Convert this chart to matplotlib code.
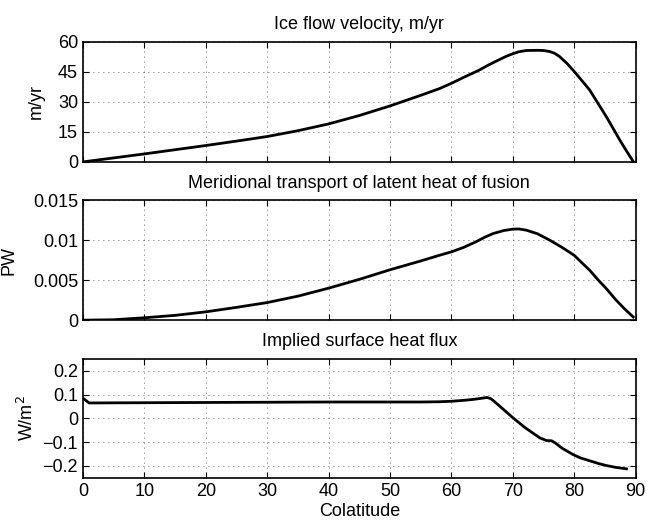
import numpy as np
import matplotlib
matplotlib.use('Agg')
import matplotlib.pyplot as plt

plt.rcParams['font.family'] = ['Liberation Sans', 'DejaVu Sans']
plt.rcParams['font.size'] = 13

# ice flow velocity (m/yr) vs colatitude
vel_lat = [0, 5, 10, 15, 20, 25, 30, 35, 40, 45, 50, 55, 58, 60, 62, 64.4, 66, 67.7, 69, 70, 71, 72.2, 74, 75, 76, 76.8, 77.6, 78.8, 80, 81.2, 82.5, 83.8, 85.2, 86.3, 87.4, 88.5, 89.6]
vel_val = [0, 2.0, 4.0, 6.1, 8.2, 10.4, 12.7, 15.6, 19.0, 23.2, 28.0, 33.3, 36.6, 39.3, 42.3, 45.7, 48.4, 51.0, 52.9, 54.1, 55.1, 55.7, 55.8, 55.7, 55.2, 54.3, 52.7, 49.3, 45.2, 40.8, 36.0, 29.6, 22.7, 16.9, 11.0, 5.5, 0.2]

# meridional transport of latent heat of fusion (PW)
pw_lat = [0, 5, 10, 15, 20, 25, 30, 35, 40, 45, 50, 55, 58, 60, 62, 64, 65.5, 66.8, 68.5, 70, 71, 72.2, 74, 76, 78, 80, 81.2, 82.5, 83.8, 85.2, 86.7, 88.2, 89.6]
pw_val = [0, 0.00005, 0.0003, 0.0006, 0.00104, 0.0016, 0.0022, 0.003, 0.004, 0.0051, 0.0063, 0.0074, 0.0081, 0.00854, 0.0091, 0.0098, 0.0104, 0.01083, 0.0112, 0.01138, 0.01140, 0.01125, 0.0108, 0.0100, 0.0091, 0.0081, 0.0072, 0.00625, 0.0051, 0.00396, 0.0026, 0.0014, 0.0004]

# implied surface heat flux (W/m^2)
hf_lat = [0, 0.5, 1, 10, 20, 30, 40, 50, 55, 58, 60, 62, 63.6, 65, 65.8, 66.4, 67, 68.5, 70, 72, 74.4, 75.5, 76.3, 76.9, 78, 79.8, 81, 82.5, 84, 85.2, 86.8, 88.5]
hf_val = [0.085, 0.075, 0.065, 0.066, 0.067, 0.068, 0.069, 0.069, 0.069, 0.070, 0.072, 0.076, 0.080, 0.085, 0.088, 0.083, 0.071, 0.037, 0.003, -0.039, -0.082, -0.093, -0.094, -0.103, -0.125, -0.152, -0.166, -0.178, -0.190, -0.198, -0.206, -0.212]

fig = plt.figure(figsize=(6.48, 5.24), dpi=100)
left, width = 0.128, 0.853
ax1 = fig.add_axes([left, 0.691, width, 0.229])
ax2 = fig.add_axes([left, 0.389, width, 0.229])
ax3 = fig.add_axes([left, 0.088, width, 0.227])

ax1.plot(vel_lat, vel_val, color='black', lw=2)
ax2.plot(pw_lat, pw_val, color='black', lw=2)
ax3.plot(hf_lat, hf_val, color='black', lw=2)

ax1.set_title('Ice flow velocity, m/yr', fontsize=13, pad=9)
ax2.set_title('Meridional transport of latent heat of fusion', fontsize=13, pad=9)
ax3.set_title('Implied surface heat flux', fontsize=13, pad=9)

ax1.set_ylim(0, 60)
ax1.set_yticks([0, 15, 30, 45, 60])
ax2.set_ylim(0, 0.015)
ax2.set_yticks([0, 0.005, 0.01, 0.015])
ax2.set_yticklabels(['0', '0.005', '0.01', '0.015'])
ax3.set_ylim(-0.25, 0.25)
ax3.set_yticks([-0.2, -0.1, 0, 0.1, 0.2])
ax3.set_yticklabels(['\u22120.2', '\u22120.1', '0', '0.1', '0.2'])

ax1.set_ylabel('m/yr')
ax2.set_ylabel('PW')
ax3.set_ylabel('W/m$^2$')
ax1.yaxis.set_label_coords(-0.069, 0.5)
ax2.yaxis.set_label_coords(-0.119, 0.5)
ax3.yaxis.set_label_coords(-0.083, 0.5)
ax3.set_xlabel('Colatitude', labelpad=2)

for ax in (ax1, ax2, ax3):
    ax.set_xlim(0, 90)
    ax.set_xticks(range(0, 91, 10))
    ax.grid(True, linestyle=(0, (1, 5)), color='black', linewidth=0.6, alpha=0.8)
    ax.tick_params(direction='in', top=True, right=True, length=4, width=0.8, labelsize=13)
    for s in ax.spines.values():
        s.set_linewidth(1.2)
for ax in (ax1, ax2):
    ax.tick_params(labelbottom=False)

fig.savefig('out.png', dpi=100)
